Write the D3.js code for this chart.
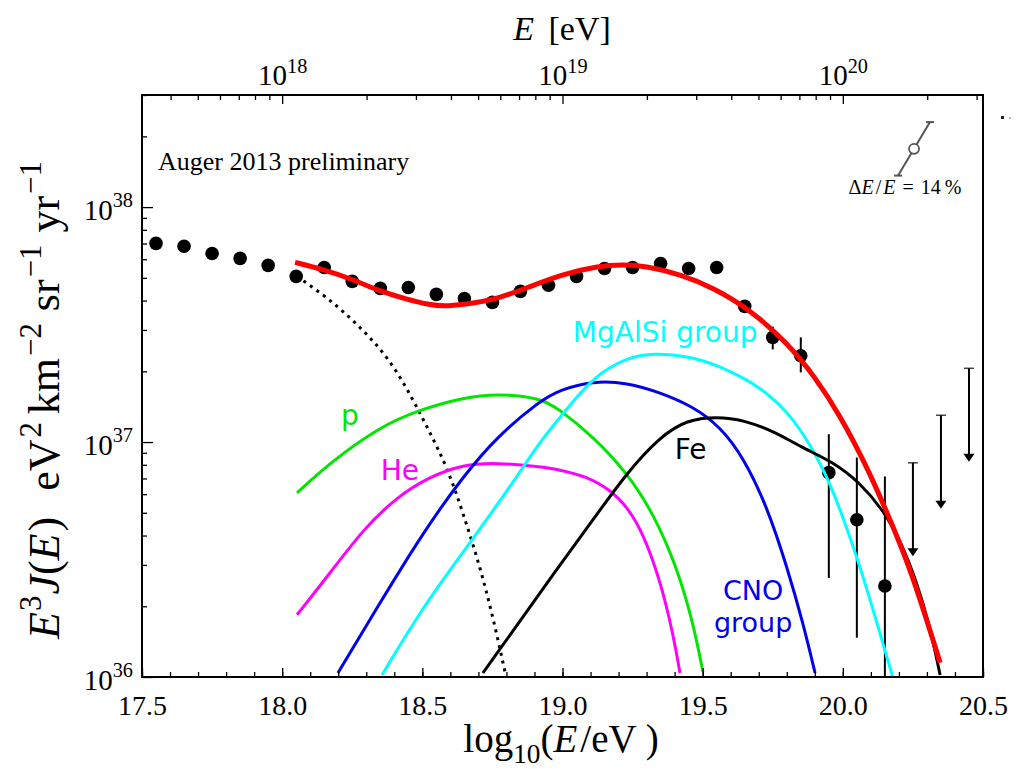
<!DOCTYPE html>
<html>
<head>
<meta charset="utf-8">
<script src="https://cdn.jsdelivr.net/npm/d3@7"></script>
<style>
  body { margin: 0; background: #fff; }
  svg { display: block; }
</style>
</head>
<body>
<svg id="chart" width="1016" height="769"></svg>
<script>
// ---- Measured spectrum (E^3 J, eV^2 km^-2 sr^-1 yr^-1) ----
const binLogE = [17.55, 17.65, 17.75, 17.85, 17.95, 18.05, 18.15, 18.25, 18.35, 18.45,
                 18.55, 18.65, 18.75, 18.85, 18.95, 19.05, 19.15, 19.25, 19.35, 19.45,
                 19.55, 19.65, 19.75, 19.85, 19.95, 20.05, 20.15];
const binFlux = [7.01e37, 6.81e37, 6.35e37, 6.05e37, 5.65e37, 5.07e37, 5.53e37, 4.83e37, 4.51e37, 4.55e37,
                 4.25e37, 4.08e37, 3.93e37, 4.38e37, 4.65e37, 5.07e37, 5.48e37, 5.53e37, 5.75e37, 5.48e37,
                 5.53e37, 3.78e37, 2.79e37, 2.33e37, 7.41e36, 4.67e36, 2.44e36];

// statistical error bars on the highest-energy bins
const errLogE = [19.75, 19.85, 19.95, 20.05, 20.15];
const errHigh = [3.10e37, 2.79e37, 1.08e37, 8.59e36, 7.13e36];
const errLow  = [2.48e37, 1.98e37, 2.64e36, 1.47e36, 5.0e35];

// upper limits
const ulLogE = [20.25, 20.35, 20.45];
const ulFlux = [8.16e36, 1.30e37, 2.06e37];

// ---- Fit: total and mass-group contributions ----
const totalLogE = [18.046, 18.146, 18.253, 18.349, 18.445, 18.52, 18.58, 18.645, 18.766, 18.884, 19.002,
                   19.123, 19.216, 19.301, 19.419, 19.537, 19.669, 19.801, 19.90, 19.99, 20.086,
                   20.158, 20.240, 20.347];
const totalFlux = [5.82e37, 5.43e37, 4.92e37, 4.38e37, 4.05e37, 3.85e37, 3.78e37, 3.85e37, 4.05e37, 4.59e37, 5.18e37,
                   5.60e37, 5.70e37, 5.60e37, 5.18e37, 4.55e37, 3.66e37, 2.65e37, 1.90e37, 1.30e37, 7.85e36,
                   5.00e36, 2.94e36, 1.15e36];

const pLogE = [18.053, 18.171, 18.349, 18.492, 18.645, 18.766, 18.920, 18.991, 19.109, 19.230,
               19.323, 19.408, 19.466, 19.501];
const pFlux = [6.08e36, 8.17e36, 1.164e37, 1.374e37, 1.545e37, 1.607e37, 1.545e37, 1.374e37, 1.054e37, 7.41e36,
               5.00e36, 2.94e36, 1.70e36, 1.05e36];

const heLogE = [18.053, 18.171, 18.288, 18.410, 18.527, 18.645, 18.766, 18.920, 18.991, 19.087,
                19.169, 19.230, 19.287, 19.348, 19.394, 19.419];
const heFlux = [1.84e36, 2.77e36, 4.24e36, 5.85e36, 7.13e36, 8.02e36, 8.17e36, 7.85e36, 7.62e36, 7.13e36,
                6.27e36, 5.31e36, 4.11e36, 2.59e36, 1.54e36, 1.04e36];

const cnoLogE = [18.199, 18.349, 18.502, 18.645, 18.766, 18.920, 18.991, 19.109, 19.230, 19.348,
                 19.466, 19.562, 19.644, 19.730, 19.801, 19.858, 19.901];
const cnoFlux = [1.04e36, 2.07e36, 4.11e36, 7.13e36, 1.054e37, 1.50e37, 1.67e37, 1.82e37, 1.791e37, 1.626e37,
                 1.416e37, 1.164e37, 8.67e36, 5.31e36, 2.94e36, 1.70e36, 1.04e36];

const mgLogE = [18.356, 18.502, 18.670, 18.823, 18.920, 18.991, 19.109, 19.230, 19.323, 19.466,
                19.587, 19.705, 19.822, 19.908, 19.965, 20.051, 20.122, 20.179];
const mgFlux = [1.02e36, 1.99e36, 3.72e36, 6.71e36, 1.005e37, 1.271e37, 1.901e37, 2.29e37, 2.40e37, 2.31e37,
                2.04e37, 1.722e37, 1.282e37, 8.67e36, 6.27e36, 3.25e36, 1.70e36, 9.9e35];

const feLogE = [18.716, 18.920, 18.991, 19.109, 19.230, 19.348, 19.444, 19.551, 19.644, 19.765,
                19.847, 19.965, 20.061, 20.143, 20.204, 20.265, 20.311, 20.347];
const feFlux = [1.04e36, 2.28e36, 3.00e36, 4.67e36, 7.41e36, 1.054e37, 1.245e37, 1.282e37, 1.245e37, 1.096e37,
                9.55e36, 8.24e36, 6.71e36, 5.15e36, 3.84e36, 2.52e36, 1.63e36, 1.02e36];

// galactic component (dotted)
const galLogE = [18.053, 18.171, 18.288, 18.385, 18.467, 18.527, 18.588, 18.645, 18.706, 18.752, 18.795];
const galFlux = [5.07e37, 4.05e37, 3.01e37, 2.24e37, 1.517e37, 1.096e37, 7.85e36, 5.00e36, 2.94e36, 1.80e36, 1.05e36];

// axis ticks
const xMajorTicks = [17.5, 18.0, 18.5, 19.0, 19.5, 20.0, 20.5];
const xTickLabels = ["17.5", "18.0", "18.5", "19.0", "19.5", "20.0", "20.5"];
const yMajorTicks = [1e36, 1e37, 1e38];
const yTickExponents = ["36", "37", "38"];
const topMajorTicks = [1e18, 1e19, 1e20];
const topTickExponents = ["18", "19", "20"];

// energy resolution marker
const resLogE = 20.254;
const resFlux = 1.77e38;
const resDeltaE = 0.14;

// ---- layout ----
const svg = d3.select("#chart");
const plotL = 142, plotR = 983, plotT = 95, plotB = 677;
const serif = "'Liberation Serif', 'Times New Roman', serif";
const sans = "'DejaVu Sans', sans-serif";

const x = d3.scaleLinear().domain([17.5, 20.5]).range([plotL, plotR]);
const xTop = d3.scaleLog().domain([Math.pow(10, 17.5), Math.pow(10, 20.5)]).range([plotL, plotR]);
const y = d3.scaleLog().domain([1e36, 3e38]).range([plotB, plotT]);

svg.append("rect").attr("width", 1016).attr("height", 769).attr("fill", "#fff");

svg.append("clipPath").attr("id", "plotClip")
  .append("rect").attr("x", plotL).attr("y", plotT).attr("width", plotR - plotL).attr("height", plotB - plotT);

const plot = svg.append("g").attr("clip-path", "url(#plotClip)");

// rich text helper: italic / superscript / subscript pieces
function rich(textSel, parts, size) {
  let shift = 0;
  parts.forEach(p => {
    const ts = textSel.append("tspan").text(p.t);
    const target = p.sup ? -size * 0.42 : (p.sub ? size * 0.28 : 0);
    ts.attr("dy", target - shift);
    shift = target;
    if (p.sup || p.sub) ts.attr("font-size", size * 0.7);
    if (p.it) ts.attr("font-style", "italic");
    if (p.dx) ts.attr("dx", p.dx);
  });
}

// ---- data points with error bars ----
const errG = plot.append("g");
errLogE.forEach((e, i) => {
  errG.append("line")
    .attr("x1", x(e)).attr("x2", x(e))
    .attr("y1", y(errHigh[i])).attr("y2", y(errLow[i]))
    .attr("stroke", "#000").attr("stroke-width", 2);
});

plot.append("g").selectAll("circle")
  .data(binLogE.map((e, i) => [e, binFlux[i]]))
  .join("circle")
  .attr("cx", d => x(d[0]))
  .attr("cy", d => y(d[1]))
  .attr("r", 6.8)
  .attr("fill", "#000");

// upper limits: capped bar with a downward arrow
const ulG = plot.append("g");
ulLogE.forEach((e, i) => {
  const cx = x(e);
  const y0 = y(ulFlux[i]);
  const y1 = y(ulFlux[i] / 2.5);
  ulG.append("line").attr("x1", cx - 5).attr("x2", cx + 5).attr("y1", y0).attr("y2", y0)
    .attr("stroke", "#444").attr("stroke-width", 1.5);
  ulG.append("line").attr("x1", cx).attr("x2", cx).attr("y1", y0).attr("y2", y1 - 6)
    .attr("stroke", "#000").attr("stroke-width", 2);
  ulG.append("path")
    .attr("d", `M${cx - 5.5},${y1 - 8} L${cx + 5.5},${y1 - 8} L${cx},${y1} Z`)
    .attr("fill", "#000");
});

// ---- fit curves ----
const line = d3.line()
  .x(d => x(d[0]))
  .y(d => y(d[1]))
  .curve(d3.curveBasis);

function curve(logE, flux, color, width, dash) {
  const p = plot.append("path")
    .datum(logE.map((e, i) => [e, flux[i]]))
    .attr("d", line)
    .attr("fill", "none")
    .attr("stroke", color)
    .attr("stroke-width", width);
  if (dash) p.attr("stroke-dasharray", dash);
  return p;
}

curve(galLogE, galFlux, "#000", 3, "3,5");
curve(pLogE, pFlux, "#00e600", 3);
curve(heLogE, heFlux, "#ff00ff", 3);
curve(cnoLogE, cnoFlux, "#0000ee", 3);
curve(mgLogE, mgFlux, "#00ffff", 3);
curve(feLogE, feFlux, "#000", 3);
curve(totalLogE, totalFlux, "#ff0000", 5);

// ---- component labels ----
const labels = [
  { t: ["p"], lx: 18.242, ly: 1.18e37, c: "#00e600", a: "middle", fs: 28 },
  { t: ["He"], lx: 18.42, ly: 6.9e36, c: "#ff00ff", a: "middle", fs: 28 },
  { t: ["MgAlSi group"], lx: 19.037, ly: 2.67e37, c: "#00ffff", a: "start", fs: 28 },
  { t: ["Fe"], lx: 19.40, ly: 8.47e36, c: "#000", a: "start", fs: 28 },
  { t: ["CNO", "group"], lx: 19.68, ly: 2.12e36, c: "#0000ee", a: "middle", fs: 27 }
];
svg.append("g").selectAll("text")
  .data(labels)
  .join("text")
  .attr("x", d => x(d.lx))
  .attr("y", d => y(d.ly))
  .attr("text-anchor", d => d.a)
  .attr("fill", d => d.c)
  .attr("font-family", sans)
  .attr("font-size", d => d.fs)
  .each(function (d) {
    const t = d3.select(this);
    d.t.forEach((s, k) => {
      t.append("tspan").attr("x", x(d.lx)).attr("dy", k === 0 ? 0 : 32).text(s);
    });
  });

// ---- annotations ----
svg.append("text")
  .attr("x", 158).attr("y", 170)
  .attr("font-family", serif).attr("font-size", 26)
  .text("Auger 2013 preliminary");

const rdE = Math.log10(1 + resDeltaE);
const rG = svg.append("g");
const rx0 = x(resLogE - rdE), rx1 = x(resLogE + rdE);
const ry0 = y(resFlux / Math.pow(10, 2 * rdE)), ry1 = y(resFlux * Math.pow(10, 2 * rdE));
rG.append("line").attr("x1", rx0).attr("y1", ry0).attr("x2", rx1).attr("y2", ry1)
  .attr("stroke", "#555").attr("stroke-width", 2);
rG.append("line").attr("x1", rx0 - 4).attr("x2", rx0 + 4).attr("y1", ry0).attr("y2", ry0)
  .attr("stroke", "#555").attr("stroke-width", 2);
rG.append("line").attr("x1", rx1 - 4).attr("x2", rx1 + 4).attr("y1", ry1).attr("y2", ry1)
  .attr("stroke", "#555").attr("stroke-width", 2);
rG.append("circle").attr("cx", x(resLogE)).attr("cy", y(resFlux)).attr("r", 5)
  .attr("fill", "#fff").attr("stroke", "#555").attr("stroke-width", 1.8);

const resText = svg.append("text")
  .attr("x", 905).attr("y", 194)
  .attr("text-anchor", "middle")
  .attr("font-family", serif).attr("font-size", 20);
rich(resText, [{ t: "Δ" }, { t: "E", it: true }, { t: "/", dx: 2 }, { t: "E", it: true, dx: 2 },
  { t: "=", dx: 7 }, { t: "14", dx: 7 }, { t: "%", dx: 4 }], 20);

// ---- axes ----
const minorX = d3.range(17.5, 20.51, 0.1).map(v => +v.toFixed(1));
const minorLog = [];
for (let n = 17; n <= 20; n++) {
  for (let k = 2; k <= 9; k++) {
    const v = k * Math.pow(10, n);
    if (v >= Math.pow(10, 17.5) && v <= Math.pow(10, 20.5)) minorLog.push(v);
  }
}
const minorY = [];
for (let n = 36; n <= 38; n++) {
  for (let k = 2; k <= 9; k++) {
    const v = k * Math.pow(10, n);
    if (v <= 3e38) minorY.push(v);
  }
}

function strip(g) {
  g.select(".domain").remove();
  g.selectAll(".tick line").attr("stroke", "#000").attr("stroke-width", 1.3);
}

// bottom
svg.append("g").attr("transform", `translate(0,${plotB})`)
  .call(d3.axisBottom(x).tickValues(minorX).tickSize(-5).tickFormat(""))
  .call(strip);
const bAxis = svg.append("g").attr("transform", `translate(0,${plotB})`)
  .call(d3.axisBottom(x).tickValues(xMajorTicks).tickSize(-9).tickPadding(18)
    .tickFormat((d, i) => xTickLabels[i]))
  .call(strip);
bAxis.selectAll("text").attr("font-family", serif).attr("font-size", 28).attr("fill", "#000");

// top
svg.append("g").attr("transform", `translate(0,${plotT})`)
  .call(d3.axisTop(xTop).tickValues(minorLog).tickSize(-5).tickFormat(""))
  .call(strip);
const tAxis = svg.append("g").attr("transform", `translate(0,${plotT})`)
  .call(d3.axisTop(xTop).tickValues(topMajorTicks).tickSize(-9).tickPadding(10).tickFormat(""))
  .call(strip);
tAxis.selectAll(".tick").each(function (d, i) {
  const t = d3.select(this).select("text")
    .attr("font-family", serif).attr("font-size", 29).attr("fill", "#000")
    .attr("dy", 0).attr("y", -10);
  rich(t, [{ t: "10" }, { t: topTickExponents[i], sup: true }], 29);
});

// left
svg.append("g").attr("transform", `translate(${plotL},0)`)
  .call(d3.axisLeft(y).tickValues(minorY).tickSize(-5).tickFormat(""))
  .call(strip);
const lAxis = svg.append("g").attr("transform", `translate(${plotL},0)`)
  .call(d3.axisLeft(y).tickValues(yMajorTicks).tickSize(-11).tickPadding(9).tickFormat(""))
  .call(strip);
lAxis.selectAll(".tick").each(function (d, i) {
  const t = d3.select(this).select("text")
    .attr("font-family", serif).attr("font-size", 29).attr("fill", "#000")
    .attr("dy", 0).attr("y", 12);
  rich(t, [{ t: "10" }, { t: yTickExponents[i], sup: true }], 29);
});

// frame
svg.append("rect")
  .attr("x", plotL).attr("y", plotT).attr("width", plotR - plotL).attr("height", plotB - plotT)
  .attr("fill", "none").attr("stroke", "#000").attr("stroke-width", 2);

// ---- axis titles ----
const xTitle = svg.append("text")
  .attr("x", 561).attr("y", 752).attr("text-anchor", "middle")
  .attr("font-family", serif).attr("font-size", 39);
rich(xTitle, [{ t: "log" }, { t: "10", sub: true }, { t: "(" }, { t: "E", it: true },
  { t: "/eV", dx: 3 }, { t: ")", dx: 9 }], 39);

const topTitle = svg.append("text")
  .attr("x", 562).attr("y", 40).attr("text-anchor", "middle")
  .attr("font-family", serif).attr("font-size", 34);
rich(topTitle, [{ t: "E", it: true }, { t: " [eV]", dx: 6 }], 34);

const yTitle = svg.append("text")
  .attr("transform", "translate(59,400) rotate(-90)")
  .attr("text-anchor", "middle")
  .attr("font-family", serif).attr("font-size", 44);
rich(yTitle, [
  { t: "E", it: true }, { t: "3", sup: true, dx: 1 }, { t: "J", it: true, dx: 1 }, { t: "(" }, { t: "E", it: true }, { t: ")", dx: 2 },
  { t: "eV", dx: 26 }, { t: "2", sup: true, dx: 2 }, { t: "km", dx: 8 }, { t: "−2", sup: true, dx: 2 },
  { t: "sr", dx: 12 }, { t: "−1", sup: true, dx: 2 }, { t: "yr", dx: 12 }, { t: "−1", sup: true, dx: 2 }
], 44);

// small marks beside the right frame edge
svg.append("rect").attr("x", 1001).attr("y", 116).attr("width", 3).attr("height", 3).attr("fill", "#222");
svg.append("rect").attr("x", 1009).attr("y", 117).attr("width", 2).attr("height", 2).attr("fill", "#bbb");
</script>
</body>
</html>
